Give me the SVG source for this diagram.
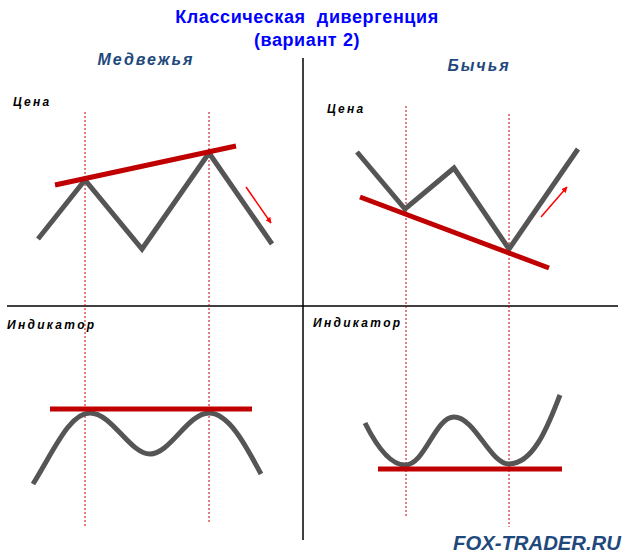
<svg xmlns="http://www.w3.org/2000/svg" width="632" height="556" viewBox="0 0 632 556">
<style>
.title{font-family:"Liberation Sans",Arial,sans-serif;font-weight:bold;font-size:18px;fill:#0000FF;text-anchor:middle;letter-spacing:0.6px}
.head{font-family:"Liberation Sans",Arial,sans-serif;font-weight:bold;font-style:italic;font-size:16px;fill:#1F497D;letter-spacing:2px;text-anchor:middle}
.lbl{font-family:"Liberation Sans",Arial,sans-serif;font-weight:bold;font-style:italic;font-size:12px;fill:#000;letter-spacing:2.3px}
.brand{font-family:"Liberation Sans",Arial,sans-serif;font-weight:bold;font-style:italic;font-size:20.3px;fill:#1F497D}
.axis{stroke:#000;stroke-width:1.5;fill:none}
.guide{stroke:#CC0000;stroke-width:1;stroke-dasharray:2,2;fill:none}
.price{stroke:#555;stroke-width:5;fill:none;stroke-linejoin:miter}
.trend{stroke:#C00000;stroke-width:5;fill:none}
.arr{stroke:#FF0000;stroke-width:1.5;fill:none;marker-end:url(#ah)}
</style>
<defs>
<marker id="ah" viewBox="0 0 10 10" refX="9" refY="5" markerWidth="6" markerHeight="6" orient="auto" markerUnits="userSpaceOnUse">
<path d="M0,0 L10,5 L0,10 z" fill="#FF0000"/>
</marker>
</defs>
<rect width="632" height="556" fill="#fff"/>
<g id="titles">
<text class="title" x="307" y="23" xml:space="preserve">Классическая  дивергенция</text>
<text class="title" x="307" y="46">(вариант 2)</text>
<text class="head" x="146" y="65">Медвежья</text>
<text class="head" x="479" y="71">Бычья</text>
</g>
<g id="axes">
<line class="axis" x1="7" y1="306" x2="618" y2="306"/>
<line class="axis" x1="303" y1="58" x2="303" y2="540"/>
</g>
<g id="bear-price">
<text class="lbl" x="13" y="106">Цена</text>
<line class="guide" x1="85" y1="112" x2="85" y2="528"/>
<line class="guide" x1="209" y1="112" x2="209" y2="524"/>
<polyline class="price" points="38,239 85,180 142,249 209,153 272,244"/>
<line class="trend" x1="55" y1="185" x2="236" y2="146"/>
<line class="arr" x1="246" y1="187" x2="271" y2="223"/>
</g>
<g id="bull-price">
<text class="lbl" x="327" y="113">Цена</text>
<line class="guide" x1="406" y1="106" x2="406" y2="518"/>
<line class="guide" x1="509" y1="114" x2="509" y2="527"/>
<polyline class="price" points="357,152 405,209 454,168 509,249 578,149"/>
<line class="trend" x1="360" y1="197" x2="549" y2="268"/>
<line class="arr" x1="541" y1="217" x2="567" y2="187"/>
</g>
<g id="bear-indicator">
<text class="lbl" x="7" y="329">Индикатор</text>
<path class="price" d="M33,484 C55,448 70,413 90,413 C112,413 130,454 150,454 C170,454 188,413 209,413 C230,413 248,450 261,474"/>
<line class="trend" x1="50" y1="409" x2="252" y2="409"/>
</g>
<g id="bull-indicator">
<text class="lbl" x="313" y="327">Индикатор</text>
<path class="price" d="M365,423 C377,447 390,465 405,465 C425,465 435,417 454,417 C475,417 490,464 509,464 C535,464 550,420 560,395"/>
<line class="trend" x1="378" y1="469" x2="562" y2="469"/>
</g>
<g id="brand">
<text class="brand" x="453" y="550">FOX-TRADER.RU</text>
</g>
</svg>
